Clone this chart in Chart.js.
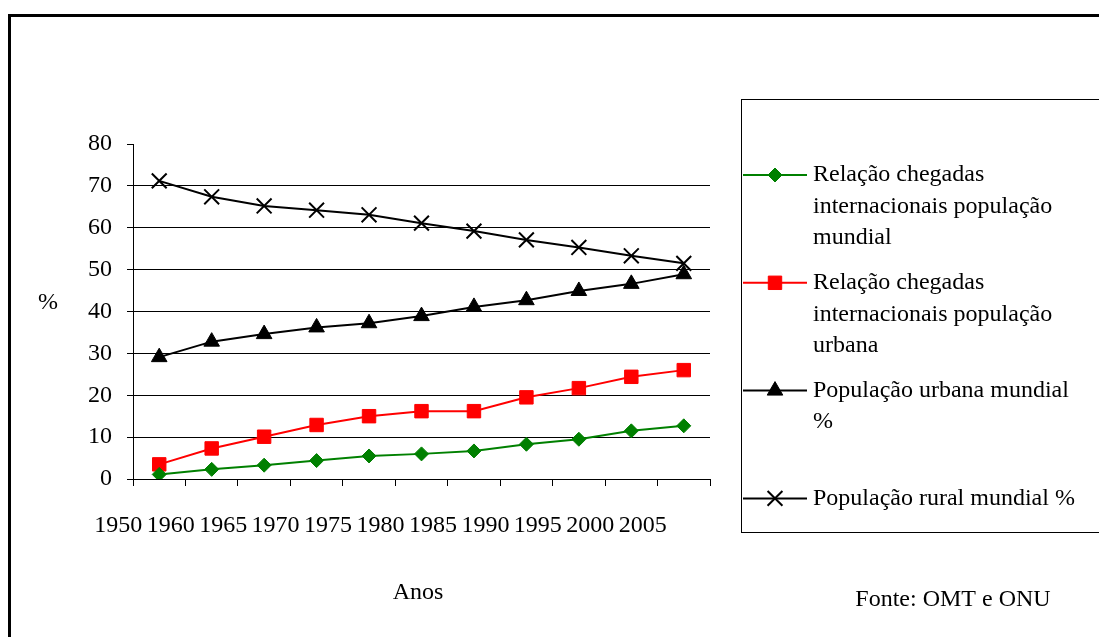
<!DOCTYPE html>
<html>
<head>
<meta charset="utf-8">
<title>Chegadas internacionais e população mundial</title>
<script src="https://cdn.jsdelivr.net/npm/chart.js@4.4.0/dist/chart.umd.min.js"></script>
<style>
  html, body { margin: 0; padding: 0; background: #fff; }
  canvas { display: block; }
</style>
</head>
<body>
<canvas id="chart" width="1099" height="637"></canvas>
<script>
// Category labels shown along the horizontal axis
const anos = ['1950', '1960', '1965', '1970', '1975', '1980', '1985', '1990', '1995', '2000', '2005'];

// Series values (%)
const chegadasPopMundial = [1.1, 2.3, 3.3, 4.4, 5.5, 6.0, 6.7, 8.3, 9.5, 11.5, 12.7];
const chegadasPopUrbana  = [3.5, 7.3, 10.1, 12.9, 15.0, 16.2, 16.2, 19.5, 21.7, 24.4, 26.0];
const popUrbanaMundial   = [29.1, 32.8, 34.6, 36.2, 37.2, 38.9, 41.1, 42.7, 44.9, 46.6, 48.9];
const popRuralMundial    = [71.2, 67.4, 65.2, 64.2, 63.1, 61.1, 59.2, 57.1, 55.3, 53.3, 51.5];

// Series names and their wrapped legend lines
const seriesNames = [
  'Relação chegadas internacionais população mundial',
  'Relação chegadas internacionais população urbana',
  'População urbana mundial %',
  'População rural mundial %'
];
const legendLines = [
  ['Relação chegadas', 'internacionais população', 'mundial'],
  ['Relação chegadas', 'internacionais população', 'urbana'],
  ['População urbana mundial', '%'],
  ['População rural mundial %']
];

// Axis ticks
const yMin = 0, yMax = 80, yStep = 10;

// Other texts
const yTitle = '%';
const xTitle = 'Anos';
const fonte = 'Fonte: OMT e ONU';

const FONT = "'Liberation Serif', 'Times New Roman', serif";
const FONT_SIZE = 24;
Chart.defaults.font.family = FONT;
Chart.defaults.font.size = FONT_SIZE;
Chart.defaults.color = '#000';

function drawMarker(ctx, style, radius, color, borderWidth, x, y) {
  const opts = { pointStyle: style, radius: radius, rotation: 0, borderWidth: borderWidth };
  ctx.save();
  ctx.fillStyle = color;
  ctx.strokeStyle = color;
  ctx.lineWidth = borderWidth;
  if (Chart.helpers && Chart.helpers.drawPoint) {
    Chart.helpers.drawPoint(ctx, opts, x, y);
  } else {
    ctx.beginPath();
    ctx.arc(x, y, radius, 0, Math.PI * 2);
    ctx.fill();
  }
  ctx.restore();
}

// Frame, free texts and the boxed legend
const decorations = {
  id: 'decorations',
  beforeDraw(chart) {
    const ctx = chart.ctx;
    ctx.save();
    ctx.fillStyle = '#fff';
    ctx.fillRect(0, 0, chart.width, chart.height);
    ctx.strokeStyle = '#000';
    ctx.lineWidth = 3;
    ctx.strokeRect(9.5, 15.5, chart.width + 20, chart.height + 20);
    ctx.restore();
  },
  afterDraw(chart) {
    const ctx = chart.ctx;
    ctx.save();
    ctx.fillStyle = '#000';
    ctx.font = FONT_SIZE + 'px ' + FONT;
    ctx.textBaseline = 'middle';
    ctx.textAlign = 'center';
    ctx.fillText(yTitle, 48, 303);
    ctx.fillText(xTitle, 418, 593);
    ctx.fillText(fonte, 953, 600);

    // legend box
    ctx.strokeStyle = '#000';
    ctx.lineWidth = 1;
    ctx.strokeRect(741.5, 99.5, 400, 433);

    const firstY = 175, entryStep = 107.8, lineStep = 31.5;
    chart.data.datasets.forEach((ds, i) => {
      const y = firstY + i * entryStep;
      ctx.strokeStyle = ds.borderColor;
      ctx.lineWidth = ds.borderWidth;
      ctx.beginPath();
      ctx.moveTo(743, y);
      ctx.lineTo(807, y);
      ctx.stroke();
      drawMarker(ctx, ds.pointStyle, ds.pointRadius, ds.pointBackgroundColor, ds.pointBorderWidth, 775, y);
      ctx.fillStyle = '#000';
      ctx.textAlign = 'left';
      legendLines[i].forEach((t, k) => ctx.fillText(t, 813, y + k * lineStep));
    });
    ctx.restore();
  }
};

function series(label, data, color, style, radius, bw) {
  return {
    label: label,
    data: data,
    borderColor: color,
    backgroundColor: color,
    borderWidth: 2,
    pointStyle: style,
    pointRadius: radius,
    pointHoverRadius: radius,
    pointBackgroundColor: color,
    pointBorderColor: color,
    pointBorderWidth: bw,
    tension: 0,
    fill: false
  };
}

new Chart(document.getElementById('chart'), {
  type: 'line',
  data: {
    labels: anos,
    datasets: [
      series(seriesNames[0], chegadasPopMundial, '#008000', 'rectRot', 7, 1),
      series(seriesNames[1], chegadasPopUrbana, '#FF0000', 'rect', 9.5, 1),
      series(seriesNames[2], popUrbanaMundial, '#000000', 'triangle', 9, 1),
      series(seriesNames[3], popRuralMundial, '#000000', 'crossRot', 10.5, 2)
    ]
  },
  options: {
    responsive: false,
    animation: false,
    layout: { padding: { top: 144, right: 389, bottom: 0, left: 0 } },
    plugins: {
      legend: { display: false },
      tooltip: { enabled: false },
      title: { display: false }
    },
    scales: {
      x: {
        type: 'category',
        offset: true,
        afterFit(scale) { scale.height = 158; },
        grid: {
          offset: true,
          drawOnChartArea: false,
          drawTicks: true,
          tickLength: 7,
          color: '#000',
          tickColor: '#000'
        },
        border: { display: true, color: '#000', width: 1 },
        ticks: {
          autoSkip: false,
          maxRotation: 0,
          minRotation: 0,
          padding: 25,
          labelOffset: -41,
          color: '#000'
        }
      },
      y: {
        min: yMin,
        max: yMax,
        afterFit(scale) { scale.width = 133; },
        grid: {
          color: (c) => (c.tick && c.tick.value === yMax) ? 'rgba(0,0,0,0)' : '#000',
          tickColor: '#000',
          tickLength: 6,
          lineWidth: 1
        },
        border: { display: true, color: '#000', width: 1 },
        ticks: {
          stepSize: yStep,
          padding: 15,
          color: '#000'
        }
      }
    }
  },
  plugins: [decorations]
});
</script>
</body>
</html>
